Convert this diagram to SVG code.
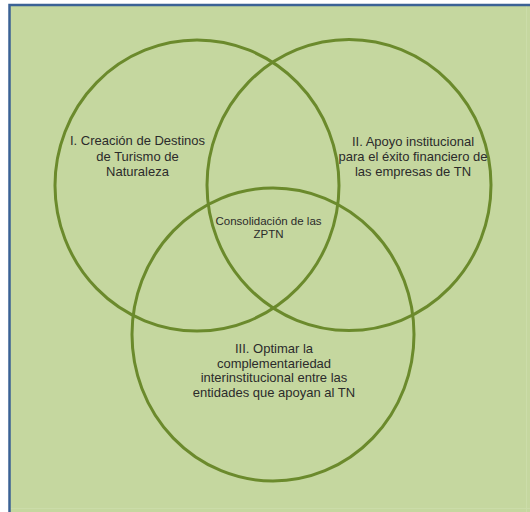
<svg xmlns="http://www.w3.org/2000/svg" width="530" height="512" viewBox="0 0 530 512">
<style>
.ring{fill:none;stroke:#6b8a2c;stroke-width:3}
.lbl{font-family:"Liberation Sans",Arial,sans-serif;font-size:13px;fill:#2b2b2b;text-anchor:middle}
.ctr{font-size:11.5px}
</style>
<rect x="0" y="0" width="530" height="512" fill="#ffffff"/>
<rect x="9" y="5" width="521" height="507" fill="#c5d79f"/>
<line x1="526.5" y1="5" x2="526.5" y2="512" stroke="#cbdca9" stroke-width="1"/>
<line x1="9" y1="508.5" x2="530" y2="508.5" stroke="#cbdca9" stroke-width="1"/>
<path d="M9.5 512 V5 H530" fill="none" stroke="#3b6295" stroke-width="2.5"/>
<g id="connectors"></g>
<g id="node-1">
<ellipse class="ring" cx="197" cy="185.5" rx="142" ry="145.5"/>
<text class="lbl" x="137.5"><tspan x="137.5" y="145">I. Creación de Destinos</tspan><tspan x="137.5" y="160.5">de Turismo de</tspan><tspan x="137.5" y="176">Naturaleza</tspan></text>
</g>
<g id="node-2">
<ellipse class="ring" cx="349" cy="185" rx="142" ry="145.5"/>
<text class="lbl" x="413"><tspan x="413" y="146">II. Apoyo institucional</tspan><tspan x="413" y="161">para el éxito financiero de</tspan><tspan x="413" y="176">las empresas de TN</tspan></text>
</g>
<g id="node-3">
<ellipse class="ring" cx="273" cy="334.5" rx="141" ry="146.5"/>
<text class="lbl" x="274"><tspan x="274" y="353">III. Optimar la</tspan><tspan x="274" y="367.5">complementariedad</tspan><tspan x="274" y="382">interinstitucional entre las</tspan><tspan x="274" y="396.5">entidades que apoyan al TN</tspan></text>
</g>
<g id="node-center">
<text class="lbl ctr" x="268.5"><tspan x="268.5" y="225">Consolidación de las</tspan><tspan x="268.5" y="238">ZPTN</tspan></text>
</g>
</svg>
